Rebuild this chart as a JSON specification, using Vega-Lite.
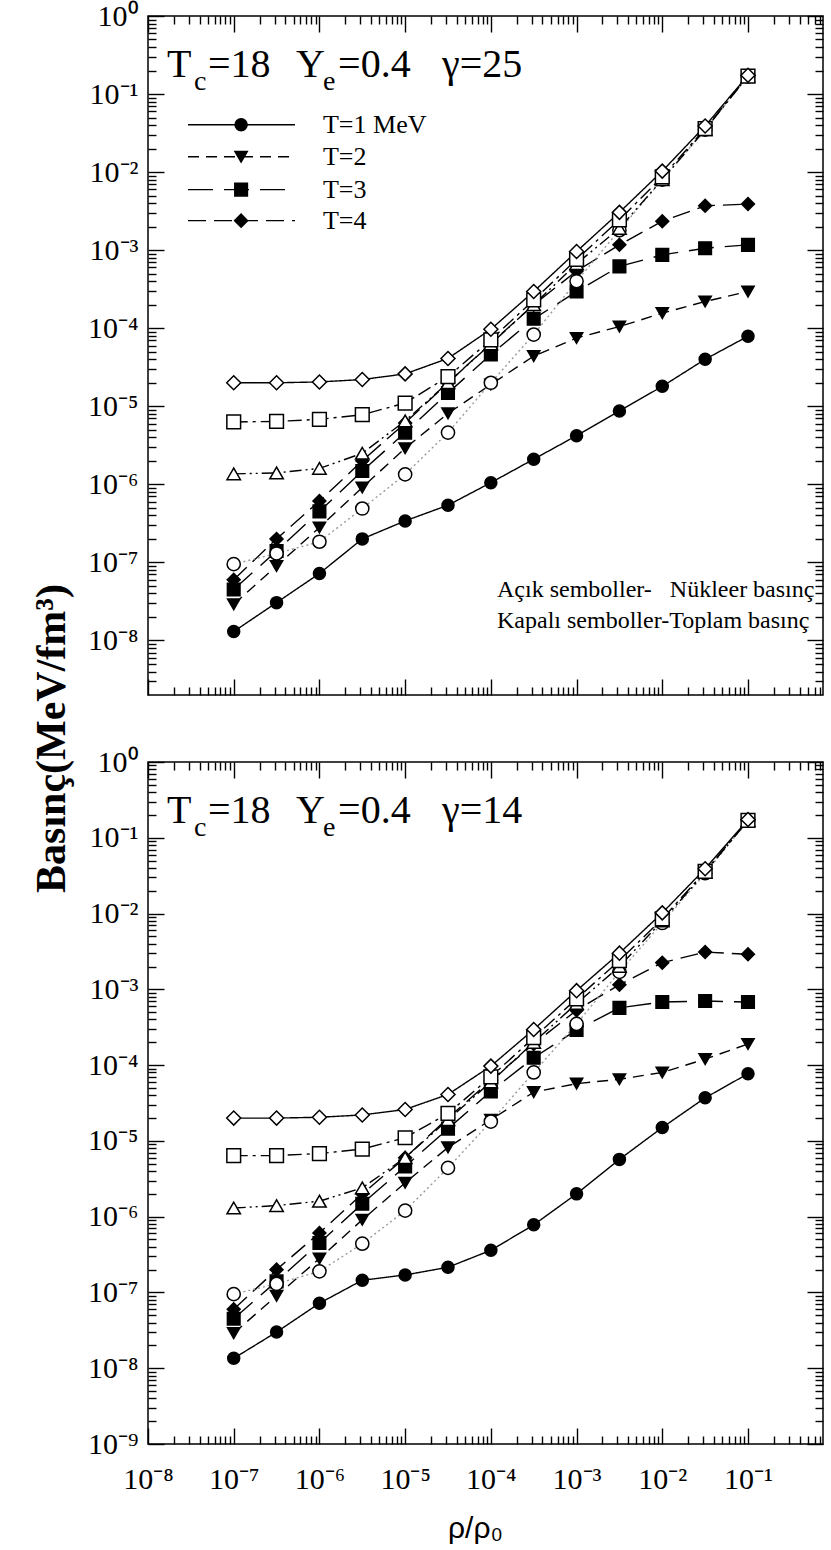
{
"$schema": "https://vega.github.io/schema/vega-lite/v6.json",
"padding": {"left": 29, "top": 0, "right": 6, "bottom": 5},
"config": {
  "view": {"stroke": "black", "strokeWidth": 1.5},
  "axis": {"domain": false, "grid": false, "tickColor": "black", "tickWidth": 1.4, "labelColor": "black", "labelFont": "Liberation Serif", "labelFontSize": 30, "titleColor": "black"},
  "text": {"font": "Liberation Serif", "color": "black"}
},
"datasets": {
  "pts": [
    {"p":"a","s":"T1","x":1e-7,"y":1.3e-8},{"p":"a","s":"T1","x":3.162e-7,"y":3.05e-8},{"p":"a","s":"T1","x":1e-6,"y":7.2e-8},{"p":"a","s":"T1","x":3.162e-6,"y":2.0e-7},{"p":"a","s":"T1","x":1e-5,"y":3.4e-7},{"p":"a","s":"T1","x":3.162e-5,"y":5.4e-7},{"p":"a","s":"T1","x":1e-4,"y":1.05e-6},{"p":"a","s":"T1","x":3.162e-4,"y":2.1e-6},{"p":"a","s":"T1","x":1e-3,"y":4.2e-6},{"p":"a","s":"T1","x":3.162e-3,"y":8.7e-6},{"p":"a","s":"T1","x":1e-2,"y":1.8e-5},{"p":"a","s":"T1","x":3.162e-2,"y":4.0e-5},{"p":"a","s":"T1","x":1e-1,"y":7.9e-5},
    {"p":"a","s":"T2","x":1e-7,"y":2.9e-8},{"p":"a","s":"T2","x":3.162e-7,"y":9.0e-8},{"p":"a","s":"T2","x":1e-6,"y":2.8e-7},{"p":"a","s":"T2","x":3.162e-6,"y":9.1e-7},{"p":"a","s":"T2","x":1e-5,"y":2.9e-6},{"p":"a","s":"T2","x":3.162e-5,"y":8.1e-6},{"p":"a","s":"T2","x":1e-4,"y":1.9e-5},{"p":"a","s":"T2","x":3.162e-4,"y":4.4e-5},{"p":"a","s":"T2","x":1e-3,"y":7.5e-5},{"p":"a","s":"T2","x":3.162e-3,"y":1.05e-4},{"p":"a","s":"T2","x":1e-2,"y":1.56e-4},{"p":"a","s":"T2","x":3.162e-2,"y":2.2e-4},{"p":"a","s":"T2","x":1e-1,"y":2.95e-4},
    {"p":"a","s":"T3","x":1e-7,"y":4.5e-8},{"p":"a","s":"T3","x":3.162e-7,"y":1.4e-7},{"p":"a","s":"T3","x":1e-6,"y":4.5e-7},{"p":"a","s":"T3","x":3.162e-6,"y":1.48e-6},{"p":"a","s":"T3","x":1e-5,"y":4.6e-6},{"p":"a","s":"T3","x":3.162e-5,"y":1.48e-5},{"p":"a","s":"T3","x":1e-4,"y":4.6e-5},{"p":"a","s":"T3","x":3.162e-4,"y":1.32e-4},{"p":"a","s":"T3","x":1e-3,"y":2.95e-4},{"p":"a","s":"T3","x":3.162e-3,"y":6.2e-4},{"p":"a","s":"T3","x":1e-2,"y":8.7e-4},{"p":"a","s":"T3","x":3.162e-2,"y":1.06e-3},{"p":"a","s":"T3","x":1e-1,"y":1.17e-3},
    {"p":"a","s":"T4","x":1e-7,"y":6.0e-8},{"p":"a","s":"T4","x":3.162e-7,"y":2.0e-7},{"p":"a","s":"T4","x":1e-6,"y":6.1e-7},{"p":"a","s":"T4","x":3.162e-6,"y":2.0e-6},{"p":"a","s":"T4","x":1e-5,"y":6.1e-6},{"p":"a","s":"T4","x":3.162e-5,"y":2.0e-5},{"p":"a","s":"T4","x":1e-4,"y":6.4e-5},{"p":"a","s":"T4","x":3.162e-4,"y":2.0e-4},{"p":"a","s":"T4","x":1e-3,"y":5.4e-4},{"p":"a","s":"T4","x":3.162e-3,"y":1.17e-3},{"p":"a","s":"T4","x":1e-2,"y":2.35e-3},{"p":"a","s":"T4","x":3.162e-2,"y":3.7e-3},{"p":"a","s":"T4","x":1e-1,"y":3.9e-3},
    {"p":"a","s":"N1","x":1e-7,"y":9.5e-8},{"p":"a","s":"N1","x":3.162e-7,"y":1.3e-7},{"p":"a","s":"N1","x":1e-6,"y":1.84e-7},{"p":"a","s":"N1","x":3.162e-6,"y":4.9e-7},{"p":"a","s":"N1","x":1e-5,"y":1.34e-6},{"p":"a","s":"N1","x":3.162e-5,"y":4.6e-6},{"p":"a","s":"N1","x":1e-4,"y":2.0e-5},{"p":"a","s":"N1","x":3.162e-4,"y":8.3e-5},{"p":"a","s":"N1","x":1e-3,"y":4.0e-4},{"p":"a","s":"N1","x":3.162e-3,"y":1.8e-3},{"p":"a","s":"N1","x":1e-2,"y":8.0e-3},{"p":"a","s":"N1","x":3.162e-2,"y":3.5e-2},{"p":"a","s":"N1","x":1e-1,"y":0.168},
    {"p":"a","s":"N2","x":1e-7,"y":1.36e-6},{"p":"a","s":"N2","x":3.162e-7,"y":1.4e-6},{"p":"a","s":"N2","x":1e-6,"y":1.6e-6},{"p":"a","s":"N2","x":3.162e-6,"y":2.5e-6},{"p":"a","s":"N2","x":1e-5,"y":6.5e-6},{"p":"a","s":"N2","x":3.162e-5,"y":2.0e-5},{"p":"a","s":"N2","x":1e-4,"y":6.3e-5},{"p":"a","s":"N2","x":3.162e-4,"y":2.0e-4},{"p":"a","s":"N2","x":1e-3,"y":6.7e-4},{"p":"a","s":"N2","x":3.162e-3,"y":1.9e-3},{"p":"a","s":"N2","x":1e-2,"y":8.0e-3},{"p":"a","s":"N2","x":3.162e-2,"y":3.5e-2},{"p":"a","s":"N2","x":1e-1,"y":0.17},
    {"p":"a","s":"N3","x":1e-7,"y":6.3e-6},{"p":"a","s":"N3","x":3.162e-7,"y":6.4e-6},{"p":"a","s":"N3","x":1e-6,"y":6.8e-6},{"p":"a","s":"N3","x":3.162e-6,"y":7.8e-6},{"p":"a","s":"N3","x":1e-5,"y":1.1e-5},{"p":"a","s":"N3","x":3.162e-5,"y":2.4e-5},{"p":"a","s":"N3","x":1e-4,"y":7.1e-5},{"p":"a","s":"N3","x":3.162e-4,"y":2.3e-4},{"p":"a","s":"N3","x":1e-3,"y":7.6e-4},{"p":"a","s":"N3","x":3.162e-3,"y":2.45e-3},{"p":"a","s":"N3","x":1e-2,"y":8.7e-3},{"p":"a","s":"N3","x":3.162e-2,"y":3.6e-2},{"p":"a","s":"N3","x":1e-1,"y":0.17},
    {"p":"a","s":"N4","x":1e-7,"y":2.0e-5},{"p":"a","s":"N4","x":3.162e-7,"y":2.0e-5},{"p":"a","s":"N4","x":1e-6,"y":2.05e-5},{"p":"a","s":"N4","x":3.162e-6,"y":2.2e-5},{"p":"a","s":"N4","x":1e-5,"y":2.6e-5},{"p":"a","s":"N4","x":3.162e-5,"y":4.1e-5},{"p":"a","s":"N4","x":1e-4,"y":9.7e-5},{"p":"a","s":"N4","x":3.162e-4,"y":2.95e-4},{"p":"a","s":"N4","x":1e-3,"y":9.6e-4},{"p":"a","s":"N4","x":3.162e-3,"y":3.05e-3},{"p":"a","s":"N4","x":1e-2,"y":1.03e-2},{"p":"a","s":"N4","x":3.162e-2,"y":3.9e-2},{"p":"a","s":"N4","x":1e-1,"y":0.174},
    {"p":"b","s":"T1","x":1e-7,"y":1.35e-8},{"p":"b","s":"T1","x":3.162e-7,"y":3.0e-8},{"p":"b","s":"T1","x":1e-6,"y":7.2e-8},{"p":"b","s":"T1","x":3.162e-6,"y":1.45e-7},{"p":"b","s":"T1","x":1e-5,"y":1.7e-7},{"p":"b","s":"T1","x":3.162e-5,"y":2.15e-7},{"p":"b","s":"T1","x":1e-4,"y":3.6e-7},{"p":"b","s":"T1","x":3.162e-4,"y":7.8e-7},{"p":"b","s":"T1","x":1e-3,"y":2.0e-6},{"p":"b","s":"T1","x":3.162e-3,"y":5.7e-6},{"p":"b","s":"T1","x":1e-2,"y":1.5e-5},{"p":"b","s":"T1","x":3.162e-2,"y":3.7e-5},{"p":"b","s":"T1","x":1e-1,"y":7.7e-5},
    {"p":"b","s":"T2","x":1e-7,"y":2.9e-8},{"p":"b","s":"T2","x":3.162e-7,"y":9.0e-8},{"p":"b","s":"T2","x":1e-6,"y":2.8e-7},{"p":"b","s":"T2","x":3.162e-6,"y":9.1e-7},{"p":"b","s":"T2","x":1e-5,"y":2.8e-6},{"p":"b","s":"T2","x":3.162e-5,"y":8.2e-6},{"p":"b","s":"T2","x":1e-4,"y":1.9e-5},{"p":"b","s":"T2","x":3.162e-4,"y":4.4e-5},{"p":"b","s":"T2","x":1e-3,"y":5.7e-5},{"p":"b","s":"T2","x":3.162e-3,"y":6.5e-5},{"p":"b","s":"T2","x":1e-2,"y":8.0e-5},{"p":"b","s":"T2","x":3.162e-2,"y":1.2e-4},{"p":"b","s":"T2","x":1e-1,"y":1.9e-4},
    {"p":"b","s":"T3","x":1e-7,"y":4.5e-8},{"p":"b","s":"T3","x":3.162e-7,"y":1.4e-7},{"p":"b","s":"T3","x":1e-6,"y":4.5e-7},{"p":"b","s":"T3","x":3.162e-6,"y":1.48e-6},{"p":"b","s":"T3","x":1e-5,"y":4.6e-6},{"p":"b","s":"T3","x":3.162e-5,"y":1.45e-5},{"p":"b","s":"T3","x":1e-4,"y":4.5e-5},{"p":"b","s":"T3","x":3.162e-4,"y":1.25e-4},{"p":"b","s":"T3","x":1e-3,"y":2.9e-4},{"p":"b","s":"T3","x":3.162e-3,"y":5.7e-4},{"p":"b","s":"T3","x":1e-2,"y":6.8e-4},{"p":"b","s":"T3","x":3.162e-2,"y":7.0e-4},{"p":"b","s":"T3","x":1e-1,"y":6.8e-4},
    {"p":"b","s":"T4","x":1e-7,"y":6.0e-8},{"p":"b","s":"T4","x":3.162e-7,"y":2.0e-7},{"p":"b","s":"T4","x":1e-6,"y":6.1e-7},{"p":"b","s":"T4","x":3.162e-6,"y":2.0e-6},{"p":"b","s":"T4","x":1e-5,"y":6.0e-6},{"p":"b","s":"T4","x":3.162e-5,"y":2.0e-5},{"p":"b","s":"T4","x":1e-4,"y":6.3e-5},{"p":"b","s":"T4","x":3.162e-4,"y":1.9e-4},{"p":"b","s":"T4","x":1e-3,"y":5.3e-4},{"p":"b","s":"T4","x":3.162e-3,"y":1.15e-3},{"p":"b","s":"T4","x":1e-2,"y":2.25e-3},{"p":"b","s":"T4","x":3.162e-2,"y":3.1e-3},{"p":"b","s":"T4","x":1e-1,"y":2.9e-3},
    {"p":"b","s":"N1","x":1e-7,"y":9.5e-8},{"p":"b","s":"N1","x":3.162e-7,"y":1.3e-7},{"p":"b","s":"N1","x":1e-6,"y":1.9e-7},{"p":"b","s":"N1","x":3.162e-6,"y":4.4e-7},{"p":"b","s":"N1","x":1e-5,"y":1.2e-6},{"p":"b","s":"N1","x":3.162e-5,"y":4.4e-6},{"p":"b","s":"N1","x":1e-4,"y":1.8e-5},{"p":"b","s":"N1","x":3.162e-4,"y":8.0e-5},{"p":"b","s":"N1","x":1e-3,"y":3.5e-4},{"p":"b","s":"N1","x":3.162e-3,"y":1.7e-3},{"p":"b","s":"N1","x":1e-2,"y":7.5e-3},{"p":"b","s":"N1","x":3.162e-2,"y":3.4e-2},{"p":"b","s":"N1","x":1e-1,"y":0.168},
    {"p":"b","s":"N2","x":1e-7,"y":1.3e-6},{"p":"b","s":"N2","x":3.162e-7,"y":1.4e-6},{"p":"b","s":"N2","x":1e-6,"y":1.6e-6},{"p":"b","s":"N2","x":3.162e-6,"y":2.4e-6},{"p":"b","s":"N2","x":1e-5,"y":6.0e-6},{"p":"b","s":"N2","x":3.162e-5,"y":1.9e-5},{"p":"b","s":"N2","x":1e-4,"y":6.0e-5},{"p":"b","s":"N2","x":3.162e-4,"y":2.0e-4},{"p":"b","s":"N2","x":1e-3,"y":6.5e-4},{"p":"b","s":"N2","x":3.162e-3,"y":2.0e-3},{"p":"b","s":"N2","x":1e-2,"y":8.0e-3},{"p":"b","s":"N2","x":3.162e-2,"y":3.5e-2},{"p":"b","s":"N2","x":1e-1,"y":0.17},
    {"p":"b","s":"N3","x":1e-7,"y":6.4e-6},{"p":"b","s":"N3","x":3.162e-7,"y":6.4e-6},{"p":"b","s":"N3","x":1e-6,"y":6.8e-6},{"p":"b","s":"N3","x":3.162e-6,"y":7.8e-6},{"p":"b","s":"N3","x":1e-5,"y":1.1e-5},{"p":"b","s":"N3","x":3.162e-5,"y":2.3e-5},{"p":"b","s":"N3","x":1e-4,"y":7.0e-5},{"p":"b","s":"N3","x":3.162e-4,"y":2.3e-4},{"p":"b","s":"N3","x":1e-3,"y":7.5e-4},{"p":"b","s":"N3","x":3.162e-3,"y":2.4e-3},{"p":"b","s":"N3","x":1e-2,"y":8.5e-3},{"p":"b","s":"N3","x":3.162e-2,"y":3.6e-2},{"p":"b","s":"N3","x":1e-1,"y":0.17},
    {"p":"b","s":"N4","x":1e-7,"y":2.0e-5},{"p":"b","s":"N4","x":3.162e-7,"y":2.0e-5},{"p":"b","s":"N4","x":1e-6,"y":2.05e-5},{"p":"b","s":"N4","x":3.162e-6,"y":2.2e-5},{"p":"b","s":"N4","x":1e-5,"y":2.6e-5},{"p":"b","s":"N4","x":3.162e-5,"y":4.1e-5},{"p":"b","s":"N4","x":1e-4,"y":9.7e-5},{"p":"b","s":"N4","x":3.162e-4,"y":2.95e-4},{"p":"b","s":"N4","x":1e-3,"y":9.6e-4},{"p":"b","s":"N4","x":3.162e-3,"y":3.0e-3},{"p":"b","s":"N4","x":1e-2,"y":1.02e-2},{"p":"b","s":"N4","x":3.162e-2,"y":3.9e-2},{"p":"b","s":"N4","x":1e-1,"y":0.174}
  ],
  "leg": [
    {"s":"T1","x":2.93e-8,"y":0.0404},{"s":"T1","x":5.19e-7,"y":0.0404},
    {"s":"T2","x":2.93e-8,"y":0.01574},{"s":"T2","x":5.19e-7,"y":0.01574},
    {"s":"T3","x":2.93e-8,"y":0.00596},{"s":"T3","x":5.19e-7,"y":0.00596},
    {"s":"T4","x":2.93e-8,"y":0.00239},{"s":"T4","x":5.19e-7,"y":0.00239}
  ],
  "legm": [
    {"s":"T1","x":1.22e-7,"y":0.0404},{"s":"T2","x":1.22e-7,"y":0.01574},{"s":"T3","x":1.22e-7,"y":0.00596},{"s":"T4","x":1.22e-7,"y":0.00239}
  ],
  "legt": [
    {"t":"T=1 MeV","x":1.1e-6,"y":0.0404},{"t":"T=2","x":1.1e-6,"y":0.01574},{"t":"T=3","x":1.1e-6,"y":0.00596},{"t":"T=4","x":1.1e-6,"y":0.00239}
  ],
  "notes": [
    {"p":"a","k":"main","t":"T","x":1.67e-8,"y":0.166},
    {"p":"a","k":"sub","t":"c","x":3.45e-8,"y":0.113},
    {"p":"a","k":"main","t":"=18","x":5.0e-8,"y":0.166},
    {"p":"a","k":"main","t":"Y","x":5.33e-7,"y":0.166},
    {"p":"a","k":"sub","t":"e","x":1.1e-6,"y":0.113},
    {"p":"a","k":"main","t":"=0.4","x":1.65e-6,"y":0.166},
    {"p":"a","k":"main","t":"γ=25","x":2.7e-5,"y":0.166},
    {"p":"b","k":"main","t":"T","x":1.67e-8,"y":0.157},
    {"p":"b","k":"sub","t":"c","x":3.45e-8,"y":0.1056},
    {"p":"b","k":"main","t":"=18","x":5.0e-8,"y":0.157},
    {"p":"b","k":"main","t":"Y","x":5.33e-7,"y":0.157},
    {"p":"b","k":"sub","t":"e","x":1.1e-6,"y":0.1056},
    {"p":"b","k":"main","t":"=0.4","x":1.65e-6,"y":0.157},
    {"p":"b","k":"main","t":"γ=14","x":2.7e-5,"y":0.157},
    {"p":"a","k":"key","t":"Açık semboller-\u00a0\u00a0\u00a0Nükleer basınç","x":1.18e-4,"y":3.6e-8},
    {"p":"a","k":"key","t":"Kapalı semboller-Toplam basınç","x":1.18e-4,"y":1.45e-8}
  ]
},
"spacing": 67,
"bounds": "flush",
"resolve": {"scale": {"x": "independent", "y": "independent"}},
"vconcat": [
{
  "width": 675, "height": 679,
  "resolve": {"axis": {"x": "independent", "y": "independent"}},
  "layer": [
    {"data": {"name": "pts"}, "transform": [{"filter": "datum.p=='a' && datum.s=='T1'"}], "mark": {"type": "point", "opacity": 0},
     "encoding": {
       "x": {"field": "x", "type": "quantitative", "scale": {"type": "log", "domain": [1e-8, 0.75], "nice": false}, "axis": null},
       "y": {"field": "y", "type": "quantitative", "scale": {"type": "log", "domain": [2e-9, 1], "nice": false},
             "axis": {"orient": "left", "values": [1e-8,1e-7,1e-6,1e-5,1e-4,1e-3,1e-2,1e-1,1], "ticks": false, "labelPadding": 10, "labelOverlap": false, "labelBound": false, "labelFlush": false,
                      "labelExpr": "'10' + ['⁰','⁻¹','⁻²','⁻³','⁻⁴','⁻⁵','⁻⁶','⁻⁷','⁻⁸','⁻⁹'][round(-log(datum.value)/LN10)]",
                      "title": "Basınç(MeV/fm³)", "titleFont": "Liberation Serif", "titleFontSize": 42, "titleFontWeight": "bold", "titleAngle": 270, "titleX": -97, "titleY": 722, "titleAlign": "center", "titleBaseline": "middle"}}}},
    {"data": {"name": "pts"}, "transform": [{"filter": "datum.p=='a' && datum.s=='T1'"}], "mark": {"type": "point", "opacity": 0},
     "encoding": {
       "x": {"field": "x", "type": "quantitative", "scale": {"type": "log", "domain": [1e-8, 0.75], "nice": false}, "axis": {"orient": "bottom", "values": [1e-8,1e-7,1e-6,1e-5,1e-4,1e-3,1e-2,1e-1], "labels": false, "tickSize": -16, "title": null}},
       "y": {"field": "y", "type": "quantitative", "scale": {"type": "log", "domain": [2e-9, 1], "nice": false}, "axis": {"orient": "left", "values": [1e-8,1e-7,1e-6,1e-5,1e-4,1e-3,1e-2,1e-1,1], "labels": false, "tickSize": -16, "title": null}}}},
    {"data": {"name": "pts"}, "transform": [{"filter": "datum.p=='a' && datum.s=='T1'"}], "mark": {"type": "point", "opacity": 0},
     "encoding": {
       "x": {"field": "x", "type": "quantitative", "scale": {"type": "log", "domain": [1e-8, 0.75], "nice": false}, "axis": {"orient": "bottom", "values": [2e-8,3e-8,4e-8,5e-8,6e-8,7e-8,8e-8,9e-8,2e-7,3e-7,4e-7,5e-7,6e-7,7e-7,8e-7,9e-7,2e-6,3e-6,4e-6,5e-6,6e-6,7e-6,8e-6,9e-6,2e-5,3e-5,4e-5,5e-5,6e-5,7e-5,8e-5,9e-5,2e-4,3e-4,4e-4,5e-4,6e-4,7e-4,8e-4,9e-4,2e-3,3e-3,4e-3,5e-3,6e-3,7e-3,8e-3,9e-3,2e-2,3e-2,4e-2,5e-2,6e-2,7e-2,8e-2,9e-2,0.2,0.3,0.4,0.5,0.6,0.7], "labels": false, "tickSize": -8, "title": null}},
       "y": {"field": "y", "type": "quantitative", "scale": {"type": "log", "domain": [2e-9, 1], "nice": false}, "axis": {"orient": "left", "values": [3e-9,4e-9,5e-9,6e-9,7e-9,8e-9,9e-9,2e-8,3e-8,4e-8,5e-8,6e-8,7e-8,8e-8,9e-8,2e-7,3e-7,4e-7,5e-7,6e-7,7e-7,8e-7,9e-7,2e-6,3e-6,4e-6,5e-6,6e-6,7e-6,8e-6,9e-6,2e-5,3e-5,4e-5,5e-5,6e-5,7e-5,8e-5,9e-5,2e-4,3e-4,4e-4,5e-4,6e-4,7e-4,8e-4,9e-4,2e-3,3e-3,4e-3,5e-3,6e-3,7e-3,8e-3,9e-3,2e-2,3e-2,4e-2,5e-2,6e-2,7e-2,8e-2,9e-2,0.2,0.3,0.4,0.5,0.6,0.7,0.8,0.9], "labels": false, "tickSize": -8, "title": null}}}},
    {"data": {"name": "pts"}, "transform": [{"filter": "datum.p=='a' && datum.s=='T1'"}], "mark": {"type": "point", "opacity": 0},
     "encoding": {
       "x": {"field": "x", "type": "quantitative", "scale": {"type": "log", "domain": [1e-8, 0.75], "nice": false}, "axis": {"orient": "top", "values": [1e-8,1e-7,1e-6,1e-5,1e-4,1e-3,1e-2,1e-1], "labels": false, "tickSize": -16, "title": null}},
       "y": {"field": "y", "type": "quantitative", "scale": {"type": "log", "domain": [2e-9, 1], "nice": false}, "axis": {"orient": "right", "values": [1e-8,1e-7,1e-6,1e-5,1e-4,1e-3,1e-2,1e-1,1], "labels": false, "tickSize": -16, "title": null}}}},
    {"data": {"name": "pts"}, "transform": [{"filter": "datum.p=='a' && datum.s=='T1'"}], "mark": {"type": "point", "opacity": 0},
     "encoding": {
       "x": {"field": "x", "type": "quantitative", "scale": {"type": "log", "domain": [1e-8, 0.75], "nice": false}, "axis": {"orient": "top", "values": [2e-8,3e-8,4e-8,5e-8,6e-8,7e-8,8e-8,9e-8,2e-7,3e-7,4e-7,5e-7,6e-7,7e-7,8e-7,9e-7,2e-6,3e-6,4e-6,5e-6,6e-6,7e-6,8e-6,9e-6,2e-5,3e-5,4e-5,5e-5,6e-5,7e-5,8e-5,9e-5,2e-4,3e-4,4e-4,5e-4,6e-4,7e-4,8e-4,9e-4,2e-3,3e-3,4e-3,5e-3,6e-3,7e-3,8e-3,9e-3,2e-2,3e-2,4e-2,5e-2,6e-2,7e-2,8e-2,9e-2,0.2,0.3,0.4,0.5,0.6,0.7], "labels": false, "tickSize": -8, "title": null}},
       "y": {"field": "y", "type": "quantitative", "scale": {"type": "log", "domain": [2e-9, 1], "nice": false}, "axis": {"orient": "right", "values": [3e-9,4e-9,5e-9,6e-9,7e-9,8e-9,9e-9,2e-8,3e-8,4e-8,5e-8,6e-8,7e-8,8e-8,9e-8,2e-7,3e-7,4e-7,5e-7,6e-7,7e-7,8e-7,9e-7,2e-6,3e-6,4e-6,5e-6,6e-6,7e-6,8e-6,9e-6,2e-5,3e-5,4e-5,5e-5,6e-5,7e-5,8e-5,9e-5,2e-4,3e-4,4e-4,5e-4,6e-4,7e-4,8e-4,9e-4,2e-3,3e-3,4e-3,5e-3,6e-3,7e-3,8e-3,9e-3,2e-2,3e-2,4e-2,5e-2,6e-2,7e-2,8e-2,9e-2,0.2,0.3,0.4,0.5,0.6,0.7,0.8,0.9], "labels": false, "tickSize": -8, "title": null}}}},
    {"data": {"name": "pts"}, "transform": [{"filter": "datum.p=='a'"}], "mark": {"type": "line", "strokeWidth": 1.4},
     "encoding": {
       "x": {"field": "x", "type": "quantitative", "scale": {"type": "log", "domain": [1e-8, 0.75], "nice": false}, "axis": null},
       "y": {"field": "y", "type": "quantitative", "scale": {"type": "log", "domain": [2e-9, 1], "nice": false}, "axis": null},
       "strokeDash": {"field": "s", "type": "nominal", "scale": {"domain": ["T1","T2","T3","T4","N1","N2","N3","N4"], "range": [[1,0],[11,7],[25,11],[18,8],[2,3],[12,4,2,4,2,4],[14,5,3,5],[1,0]]}, "legend": null},
       "color": {"field": "s", "type": "nominal", "scale": {"domain": ["T1","T2","T3","T4","N1","N2","N3","N4"], "range": ["black","black","black","black","#9a9a9a","black","black","black"]}, "legend": null}}},
    {"data": {"name": "pts"}, "transform": [{"filter": "datum.p=='a'"}], "mark": {"type": "point", "filled": true, "stroke": "black", "strokeWidth": 1.5, "opacity": 1},
     "encoding": {
       "x": {"field": "x", "type": "quantitative", "scale": {"type": "log", "domain": [1e-8, 0.75], "nice": false}, "axis": null},
       "y": {"field": "y", "type": "quantitative", "scale": {"type": "log", "domain": [2e-9, 1], "nice": false}, "axis": null},
       "shape": {"field": "s", "type": "nominal", "scale": {"domain": ["T1","T2","T3","T4","N1","N2","N3","N4"], "range": ["circle","triangle-down","square","diamond","circle","triangle-up","square","diamond"]}, "legend": null},
       "fill": {"field": "s", "type": "nominal", "scale": {"domain": ["T1","T2","T3","T4","N1","N2","N3","N4"], "range": ["black","black","black","black","white","white","white","white"]}, "legend": null},
       "size": {"field": "s", "type": "ordinal", "scale": {"domain": ["T1","T2","T3","T4","N1","N2","N3","N4"], "range": [144,196,121,256,121,169,144,256]}, "legend": null}}},
    {"data": {"name": "leg"}, "mark": {"type": "line", "strokeWidth": 1.4},
     "encoding": {
       "x": {"field": "x", "type": "quantitative", "scale": {"type": "log", "domain": [1e-8, 0.75], "nice": false}, "axis": null},
       "y": {"field": "y", "type": "quantitative", "scale": {"type": "log", "domain": [2e-9, 1], "nice": false}, "axis": null},
       "strokeDash": {"field": "s", "type": "nominal", "scale": {"domain": ["T1","T2","T3","T4","N1","N2","N3","N4"], "range": [[1,0],[11,7],[25,11],[18,8],[2,3],[12,4,2,4,2,4],[14,5,3,5],[1,0]]}, "legend": null},
       "color": {"field": "s", "type": "nominal", "scale": {"domain": ["T1","T2","T3","T4","N1","N2","N3","N4"], "range": ["black","black","black","black","#9a9a9a","black","black","black"]}, "legend": null}}},
    {"data": {"name": "legm"}, "mark": {"type": "point", "filled": true, "stroke": "black", "strokeWidth": 1.5, "opacity": 1},
     "encoding": {
       "x": {"field": "x", "type": "quantitative", "scale": {"type": "log", "domain": [1e-8, 0.75], "nice": false}, "axis": null},
       "y": {"field": "y", "type": "quantitative", "scale": {"type": "log", "domain": [2e-9, 1], "nice": false}, "axis": null},
       "shape": {"field": "s", "type": "nominal", "scale": {"domain": ["T1","T2","T3","T4","N1","N2","N3","N4"], "range": ["circle","triangle-down","square","diamond","circle","triangle-up","square","diamond"]}, "legend": null},
       "fill": {"field": "s", "type": "nominal", "scale": {"domain": ["T1","T2","T3","T4","N1","N2","N3","N4"], "range": ["black","black","black","black","white","white","white","white"]}, "legend": null},
       "size": {"field": "s", "type": "ordinal", "scale": {"domain": ["T1","T2","T3","T4","N1","N2","N3","N4"], "range": [144,196,121,256,121,169,144,256]}, "legend": null}}},
    {"data": {"name": "legt"}, "mark": {"type": "text", "align": "left", "baseline": "middle", "fontSize": 26},
     "encoding": {
       "x": {"field": "x", "type": "quantitative", "scale": {"type": "log", "domain": [1e-8, 0.75], "nice": false}, "axis": null},
       "y": {"field": "y", "type": "quantitative", "scale": {"type": "log", "domain": [2e-9, 1], "nice": false}, "axis": null},
       "text": {"field": "t"}}},
    {"data": {"name": "notes"}, "transform": [{"filter": "datum.p=='a' && datum.k=='main'"}], "mark": {"type": "text", "align": "left", "baseline": "alphabetic", "fontSize": 40},
     "encoding": {
       "x": {"field": "x", "type": "quantitative", "scale": {"type": "log", "domain": [1e-8, 0.75], "nice": false}, "axis": null},
       "y": {"field": "y", "type": "quantitative", "scale": {"type": "log", "domain": [2e-9, 1], "nice": false}, "axis": null},
       "text": {"field": "t"}}},
    {"data": {"name": "notes"}, "transform": [{"filter": "datum.p=='a' && datum.k=='sub'"}], "mark": {"type": "text", "align": "left", "baseline": "alphabetic", "fontSize": 28},
     "encoding": {
       "x": {"field": "x", "type": "quantitative", "scale": {"type": "log", "domain": [1e-8, 0.75], "nice": false}, "axis": null},
       "y": {"field": "y", "type": "quantitative", "scale": {"type": "log", "domain": [2e-9, 1], "nice": false}, "axis": null},
       "text": {"field": "t"}}},
    {"data": {"name": "notes"}, "transform": [{"filter": "datum.p=='a' && datum.k=='key'"}], "mark": {"type": "text", "align": "left", "baseline": "alphabetic", "fontSize": 24},
     "encoding": {
       "x": {"field": "x", "type": "quantitative", "scale": {"type": "log", "domain": [1e-8, 0.75], "nice": false}, "axis": null},
       "y": {"field": "y", "type": "quantitative", "scale": {"type": "log", "domain": [2e-9, 1], "nice": false}, "axis": null},
       "text": {"field": "t"}}}
  ]
},
{
  "width": 675, "height": 682,
  "resolve": {"axis": {"x": "independent", "y": "independent"}},
  "layer": [
    {"data": {"name": "pts"}, "transform": [{"filter": "datum.p=='b' && datum.s=='T1'"}], "mark": {"type": "point", "opacity": 0},
     "encoding": {
       "x": {"field": "x", "type": "quantitative", "scale": {"type": "log", "domain": [1e-8, 0.75], "nice": false},
             "axis": {"orient": "bottom", "values": [1e-8,1e-7,1e-6,1e-5,1e-4,1e-3,1e-2,1e-1], "ticks": false, "labelPadding": 20, "labelOverlap": false, "labelBound": false, "labelFlush": false,
                      "labelExpr": "'10' + ['⁰','⁻¹','⁻²','⁻³','⁻⁴','⁻⁵','⁻⁶','⁻⁷','⁻⁸','⁻⁹'][round(-log(datum.value)/LN10)]",
                      "title": "ρ/ρ₀", "titleFont": "Liberation Sans", "titleFontSize": 30, "titleFontWeight": "normal", "titleX": 327, "titleY": 84, "titleAlign": "center", "titleBaseline": "middle"}},
       "y": {"field": "y", "type": "quantitative", "scale": {"type": "log", "domain": [1e-9, 1], "nice": false},
             "axis": {"orient": "left", "values": [1e-9,1e-8,1e-7,1e-6,1e-5,1e-4,1e-3,1e-2,1e-1,1], "ticks": false, "labelPadding": 10, "labelOverlap": false, "labelBound": false, "labelFlush": false,
                      "labelExpr": "'10' + ['⁰','⁻¹','⁻²','⁻³','⁻⁴','⁻⁵','⁻⁶','⁻⁷','⁻⁸','⁻⁹'][round(-log(datum.value)/LN10)]", "title": null}}}},
    {"data": {"name": "pts"}, "transform": [{"filter": "datum.p=='b' && datum.s=='T1'"}], "mark": {"type": "point", "opacity": 0},
     "encoding": {
       "x": {"field": "x", "type": "quantitative", "scale": {"type": "log", "domain": [1e-8, 0.75], "nice": false}, "axis": {"orient": "bottom", "values": [1e-8,1e-7,1e-6,1e-5,1e-4,1e-3,1e-2,1e-1], "labels": false, "tickSize": -16, "title": null}},
       "y": {"field": "y", "type": "quantitative", "scale": {"type": "log", "domain": [1e-9, 1], "nice": false}, "axis": {"orient": "left", "values": [1e-9,1e-8,1e-7,1e-6,1e-5,1e-4,1e-3,1e-2,1e-1,1], "labels": false, "tickSize": -16, "title": null}}}},
    {"data": {"name": "pts"}, "transform": [{"filter": "datum.p=='b' && datum.s=='T1'"}], "mark": {"type": "point", "opacity": 0},
     "encoding": {
       "x": {"field": "x", "type": "quantitative", "scale": {"type": "log", "domain": [1e-8, 0.75], "nice": false}, "axis": {"orient": "bottom", "values": [2e-8,3e-8,4e-8,5e-8,6e-8,7e-8,8e-8,9e-8,2e-7,3e-7,4e-7,5e-7,6e-7,7e-7,8e-7,9e-7,2e-6,3e-6,4e-6,5e-6,6e-6,7e-6,8e-6,9e-6,2e-5,3e-5,4e-5,5e-5,6e-5,7e-5,8e-5,9e-5,2e-4,3e-4,4e-4,5e-4,6e-4,7e-4,8e-4,9e-4,2e-3,3e-3,4e-3,5e-3,6e-3,7e-3,8e-3,9e-3,2e-2,3e-2,4e-2,5e-2,6e-2,7e-2,8e-2,9e-2,0.2,0.3,0.4,0.5,0.6,0.7], "labels": false, "tickSize": -8, "title": null}},
       "y": {"field": "y", "type": "quantitative", "scale": {"type": "log", "domain": [1e-9, 1], "nice": false}, "axis": {"orient": "left", "values": [2e-9,3e-9,4e-9,5e-9,6e-9,7e-9,8e-9,9e-9,2e-8,3e-8,4e-8,5e-8,6e-8,7e-8,8e-8,9e-8,2e-7,3e-7,4e-7,5e-7,6e-7,7e-7,8e-7,9e-7,2e-6,3e-6,4e-6,5e-6,6e-6,7e-6,8e-6,9e-6,2e-5,3e-5,4e-5,5e-5,6e-5,7e-5,8e-5,9e-5,2e-4,3e-4,4e-4,5e-4,6e-4,7e-4,8e-4,9e-4,2e-3,3e-3,4e-3,5e-3,6e-3,7e-3,8e-3,9e-3,2e-2,3e-2,4e-2,5e-2,6e-2,7e-2,8e-2,9e-2,0.2,0.3,0.4,0.5,0.6,0.7,0.8,0.9], "labels": false, "tickSize": -8, "title": null}}}},
    {"data": {"name": "pts"}, "transform": [{"filter": "datum.p=='b' && datum.s=='T1'"}], "mark": {"type": "point", "opacity": 0},
     "encoding": {
       "x": {"field": "x", "type": "quantitative", "scale": {"type": "log", "domain": [1e-8, 0.75], "nice": false}, "axis": {"orient": "top", "values": [1e-8,1e-7,1e-6,1e-5,1e-4,1e-3,1e-2,1e-1], "labels": false, "tickSize": -16, "title": null}},
       "y": {"field": "y", "type": "quantitative", "scale": {"type": "log", "domain": [1e-9, 1], "nice": false}, "axis": {"orient": "right", "values": [1e-9,1e-8,1e-7,1e-6,1e-5,1e-4,1e-3,1e-2,1e-1,1], "labels": false, "tickSize": -16, "title": null}}}},
    {"data": {"name": "pts"}, "transform": [{"filter": "datum.p=='b' && datum.s=='T1'"}], "mark": {"type": "point", "opacity": 0},
     "encoding": {
       "x": {"field": "x", "type": "quantitative", "scale": {"type": "log", "domain": [1e-8, 0.75], "nice": false}, "axis": {"orient": "top", "values": [2e-8,3e-8,4e-8,5e-8,6e-8,7e-8,8e-8,9e-8,2e-7,3e-7,4e-7,5e-7,6e-7,7e-7,8e-7,9e-7,2e-6,3e-6,4e-6,5e-6,6e-6,7e-6,8e-6,9e-6,2e-5,3e-5,4e-5,5e-5,6e-5,7e-5,8e-5,9e-5,2e-4,3e-4,4e-4,5e-4,6e-4,7e-4,8e-4,9e-4,2e-3,3e-3,4e-3,5e-3,6e-3,7e-3,8e-3,9e-3,2e-2,3e-2,4e-2,5e-2,6e-2,7e-2,8e-2,9e-2,0.2,0.3,0.4,0.5,0.6,0.7], "labels": false, "tickSize": -8, "title": null}},
       "y": {"field": "y", "type": "quantitative", "scale": {"type": "log", "domain": [1e-9, 1], "nice": false}, "axis": {"orient": "right", "values": [2e-9,3e-9,4e-9,5e-9,6e-9,7e-9,8e-9,9e-9,2e-8,3e-8,4e-8,5e-8,6e-8,7e-8,8e-8,9e-8,2e-7,3e-7,4e-7,5e-7,6e-7,7e-7,8e-7,9e-7,2e-6,3e-6,4e-6,5e-6,6e-6,7e-6,8e-6,9e-6,2e-5,3e-5,4e-5,5e-5,6e-5,7e-5,8e-5,9e-5,2e-4,3e-4,4e-4,5e-4,6e-4,7e-4,8e-4,9e-4,2e-3,3e-3,4e-3,5e-3,6e-3,7e-3,8e-3,9e-3,2e-2,3e-2,4e-2,5e-2,6e-2,7e-2,8e-2,9e-2,0.2,0.3,0.4,0.5,0.6,0.7,0.8,0.9], "labels": false, "tickSize": -8, "title": null}}}},
    {"data": {"name": "pts"}, "transform": [{"filter": "datum.p=='b'"}], "mark": {"type": "line", "strokeWidth": 1.4},
     "encoding": {
       "x": {"field": "x", "type": "quantitative", "scale": {"type": "log", "domain": [1e-8, 0.75], "nice": false}, "axis": null},
       "y": {"field": "y", "type": "quantitative", "scale": {"type": "log", "domain": [1e-9, 1], "nice": false}, "axis": null},
       "strokeDash": {"field": "s", "type": "nominal", "scale": {"domain": ["T1","T2","T3","T4","N1","N2","N3","N4"], "range": [[1,0],[11,7],[25,11],[18,8],[2,3],[12,4,2,4,2,4],[14,5,3,5],[1,0]]}, "legend": null},
       "color": {"field": "s", "type": "nominal", "scale": {"domain": ["T1","T2","T3","T4","N1","N2","N3","N4"], "range": ["black","black","black","black","#9a9a9a","black","black","black"]}, "legend": null}}},
    {"data": {"name": "pts"}, "transform": [{"filter": "datum.p=='b'"}], "mark": {"type": "point", "filled": true, "stroke": "black", "strokeWidth": 1.5, "opacity": 1},
     "encoding": {
       "x": {"field": "x", "type": "quantitative", "scale": {"type": "log", "domain": [1e-8, 0.75], "nice": false}, "axis": null},
       "y": {"field": "y", "type": "quantitative", "scale": {"type": "log", "domain": [1e-9, 1], "nice": false}, "axis": null},
       "shape": {"field": "s", "type": "nominal", "scale": {"domain": ["T1","T2","T3","T4","N1","N2","N3","N4"], "range": ["circle","triangle-down","square","diamond","circle","triangle-up","square","diamond"]}, "legend": null},
       "fill": {"field": "s", "type": "nominal", "scale": {"domain": ["T1","T2","T3","T4","N1","N2","N3","N4"], "range": ["black","black","black","black","white","white","white","white"]}, "legend": null},
       "size": {"field": "s", "type": "ordinal", "scale": {"domain": ["T1","T2","T3","T4","N1","N2","N3","N4"], "range": [144,196,121,256,121,169,144,256]}, "legend": null}}},
    {"data": {"name": "notes"}, "transform": [{"filter": "datum.p=='b' && datum.k=='main'"}], "mark": {"type": "text", "align": "left", "baseline": "alphabetic", "fontSize": 40},
     "encoding": {
       "x": {"field": "x", "type": "quantitative", "scale": {"type": "log", "domain": [1e-8, 0.75], "nice": false}, "axis": null},
       "y": {"field": "y", "type": "quantitative", "scale": {"type": "log", "domain": [1e-9, 1], "nice": false}, "axis": null},
       "text": {"field": "t"}}},
    {"data": {"name": "notes"}, "transform": [{"filter": "datum.p=='b' && datum.k=='sub'"}], "mark": {"type": "text", "align": "left", "baseline": "alphabetic", "fontSize": 28},
     "encoding": {
       "x": {"field": "x", "type": "quantitative", "scale": {"type": "log", "domain": [1e-8, 0.75], "nice": false}, "axis": null},
       "y": {"field": "y", "type": "quantitative", "scale": {"type": "log", "domain": [1e-9, 1], "nice": false}, "axis": null},
       "text": {"field": "t"}}}
  ]
}
]
}
